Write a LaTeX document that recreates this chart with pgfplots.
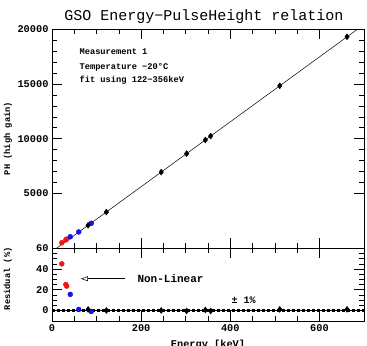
\documentclass[border=0pt]{standalone}
\usepackage{pgfplots}
\pgfplotsset{compat=1.18}
\usepackage{fontspec}
\setmainfont{Liberation Mono}
\usetikzlibrary{arrows.meta}
\definecolor{pblue}{RGB}{20,20,230}
\definecolor{pred}{RGB}{240,20,20}
\begin{document}
\begin{tikzpicture}
\path[use as bounding box] (-52pt,-24.8pt) rectangle (315pt,320.8pt);
\pgfplotsset{every axis/.append style={
  scale only axis, width=312pt, xmin=0, xmax=700,
  tick style={black, line width=0.5pt},
  major tick length=10pt, minor tick length=5pt, tick align=inside,
  xtick={0,200,400,600}, minor x tick num=3,
  /pgf/number format/assume math mode=true,
  /pgf/number format/1000 sep={},
  tick label style={font=\bfseries\fontsize{10.3}{12}\selectfont},
  axis line style={line width=0.6pt},
  clip=true}}
% top panel
\begin{axis}[at={(0pt,72.5pt)}, anchor=south west, height=219.2pt,
  ymin=0, ymax=20000, ytick={5000,10000,15000,20000}, minor y tick num=4,
  xticklabels={}, scaled y ticks=false]
  \addplot[black, line width=0.5pt] coordinates {(10.1,0) (686,20006)};
  \addplot[only marks, mark=*, mark size=2.5pt, color=pred] coordinates {(22,509) (31,772) (33,836)};
  \addplot[only marks, mark=*, mark size=2.5pt, color=pblue] coordinates {(41,1050) (60,1491) (88,2282)};
  \addplot[only marks, mark=diamond*, mark size=3pt, color=black] coordinates {(81,2098) (122,3311) (245,6952) (302,8639) (344,9882) (356,10238) (511,14826) (662,19295)};
  \node[anchor=base west, font=\bfseries\fontsize{8.7}{10}\selectfont] at (axis cs:54,17655) {Measurement 1};
  \node[anchor=base west, font=\bfseries\fontsize{8.7}{10}\selectfont] at (axis cs:54,16332) {Temperature −20°C};
  \node[anchor=base west, font=\bfseries\fontsize{8.7}{10}\selectfont] at (axis cs:54,15100) {fit using 122−356keV};
\end{axis}
% residual panel
\begin{axis}[at={(0pt,0pt)}, anchor=south west, height=72.5pt,
  ymin=-10, ymax=60, ytick={0,20,40,60}, minor y tick num=3]
  \addplot[black, line width=0.4pt] coordinates {(0,0) (700,0)};
  \addplot[black, densely dashed, line width=0.4pt] coordinates {(0,1.2) (700,1.2)};
  \addplot[black, densely dashed, line width=0.4pt] coordinates {(0,-1.2) (700,-1.2)};
  \addplot[only marks, mark=*, mark size=2.5pt, color=pred] coordinates {(22,45) (31,25) (33,23.5)};
  \addplot[only marks, mark=*, mark size=2.5pt, color=pblue] coordinates {(41,15.5) (60,1) (88,-1)};
  \addplot[only marks, mark=diamond*, mark size=3pt, color=black] coordinates {(81,1) (122,0) (245,0) (302,-0.5) (344,0.5) (356,-0.5) (511,1) (662,1)};
  \draw[{Triangle[open,length=7pt,width=5pt]}-, line width=0.5pt] (axis cs:65,30.6) -- (axis cs:164,30.6);
  \node[anchor=base west, font=\bfseries\fontsize{11}{12}\selectfont] at (axis cs:184,26.5) {Non-Linear};
  \node[anchor=base west, font=\bfseries\fontsize{10}{12}\selectfont] at (axis cs:395,6.5) {± 1\%};
\end{axis}
\node[anchor=base, font=\fontsize{15}{17}\selectfont] at (152pt,300.3pt) {GSO Energy−PulseHeight relation};
\node[rotate=90, font=\bfseries\fontsize{8.7}{10}\selectfont] at (-44pt,182.2pt) {PH (high gain)};
\node[rotate=90, font=\bfseries\fontsize{8.7}{10}\selectfont] at (-44pt,42pt) {Residual (\%)};
\node[anchor=base, font=\bfseries\fontsize{10.3}{12}\selectfont] at (156pt,-26.5pt) {Energy [keV]};
\end{tikzpicture}
\end{document}
